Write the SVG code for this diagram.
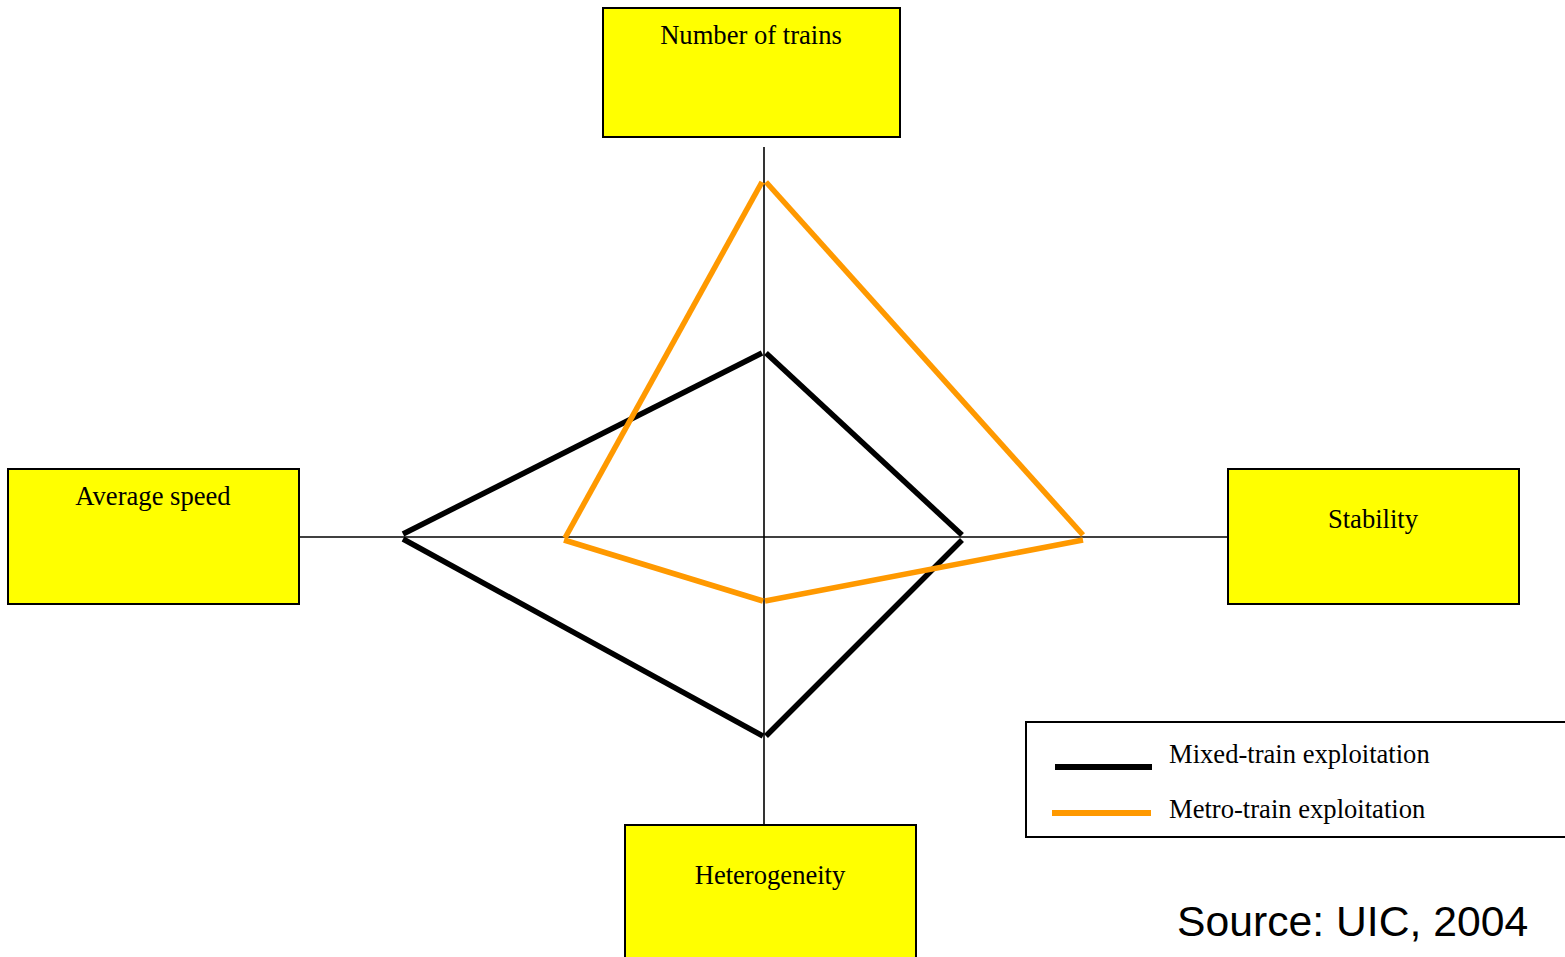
<svg xmlns="http://www.w3.org/2000/svg" width="1565" height="957" viewBox="0 0 1565 957">
<style>
.box{fill:#ffff00;stroke:#000;stroke-width:2}
.lbl{font-family:"Liberation Serif","Times New Roman",serif;font-size:26.6px;fill:#000}
.axis{stroke:#000;stroke-width:1.6;fill:none}
.mixed{stroke:#000;stroke-width:5.5;fill:none;stroke-linecap:butt}
.metro{stroke:#ff9900;stroke-width:5.5;fill:none;stroke-linecap:butt}
</style>
<rect width="1565" height="957" fill="#fff"/>
<g id="connectors">
<line class="axis" x1="764" y1="147" x2="764" y2="825"/>
<line class="axis" x1="299" y1="537" x2="1228" y2="537"/>
<g id="mixed-train">
<line class="mixed" x1="403" y1="534" x2="762" y2="353"/>
<line class="mixed" x1="766" y1="353" x2="962" y2="535"/>
<line class="mixed" x1="403" y1="539" x2="763" y2="736"/>
<line class="mixed" x1="766" y1="736" x2="962" y2="540"/>
</g>
<g id="metro-train">
<line class="metro" x1="565" y1="538" x2="762" y2="182"/>
<line class="metro" x1="766" y1="182" x2="1083" y2="535"/>
<line class="metro" x1="564" y1="540" x2="763" y2="601"/>
<line class="metro" x1="765" y1="601" x2="1083" y2="540"/>
</g>
</g>
<g id="node-trains">
<rect class="box" x="603" y="8" width="297" height="129"/>
<text class="lbl" x="751" y="44" text-anchor="middle">Number of trains</text>
</g>
<g id="node-speed">
<rect class="box" x="8" y="469" width="291" height="135"/>
<text class="lbl" x="153" y="505" text-anchor="middle">Average speed</text>
</g>
<g id="node-stability">
<rect class="box" x="1228" y="469" width="291" height="135"/>
<text class="lbl" x="1373" y="528" text-anchor="middle">Stability</text>
</g>
<g id="node-heterogeneity">
<rect class="box" x="625" y="825" width="291" height="140"/>
<text class="lbl" x="770" y="884" text-anchor="middle">Heterogeneity</text>
</g>
<g id="legend">
<rect x="1026" y="722" width="545" height="115" fill="#fff" stroke="#000" stroke-width="2"/>
<line x1="1055" y1="767" x2="1152" y2="767" stroke="#000" stroke-width="6"/>
<line x1="1052" y1="813" x2="1151" y2="813" stroke="#ff9900" stroke-width="6"/>
<text class="lbl" x="1169" y="763">Mixed-train exploitation</text>
<text class="lbl" x="1169" y="818">Metro-train exploitation</text>
</g>
<text x="1177" y="936" font-family="Liberation Sans,Arial,sans-serif" font-size="42.7" fill="#000">Source: UIC, 2004</text>
</svg>
